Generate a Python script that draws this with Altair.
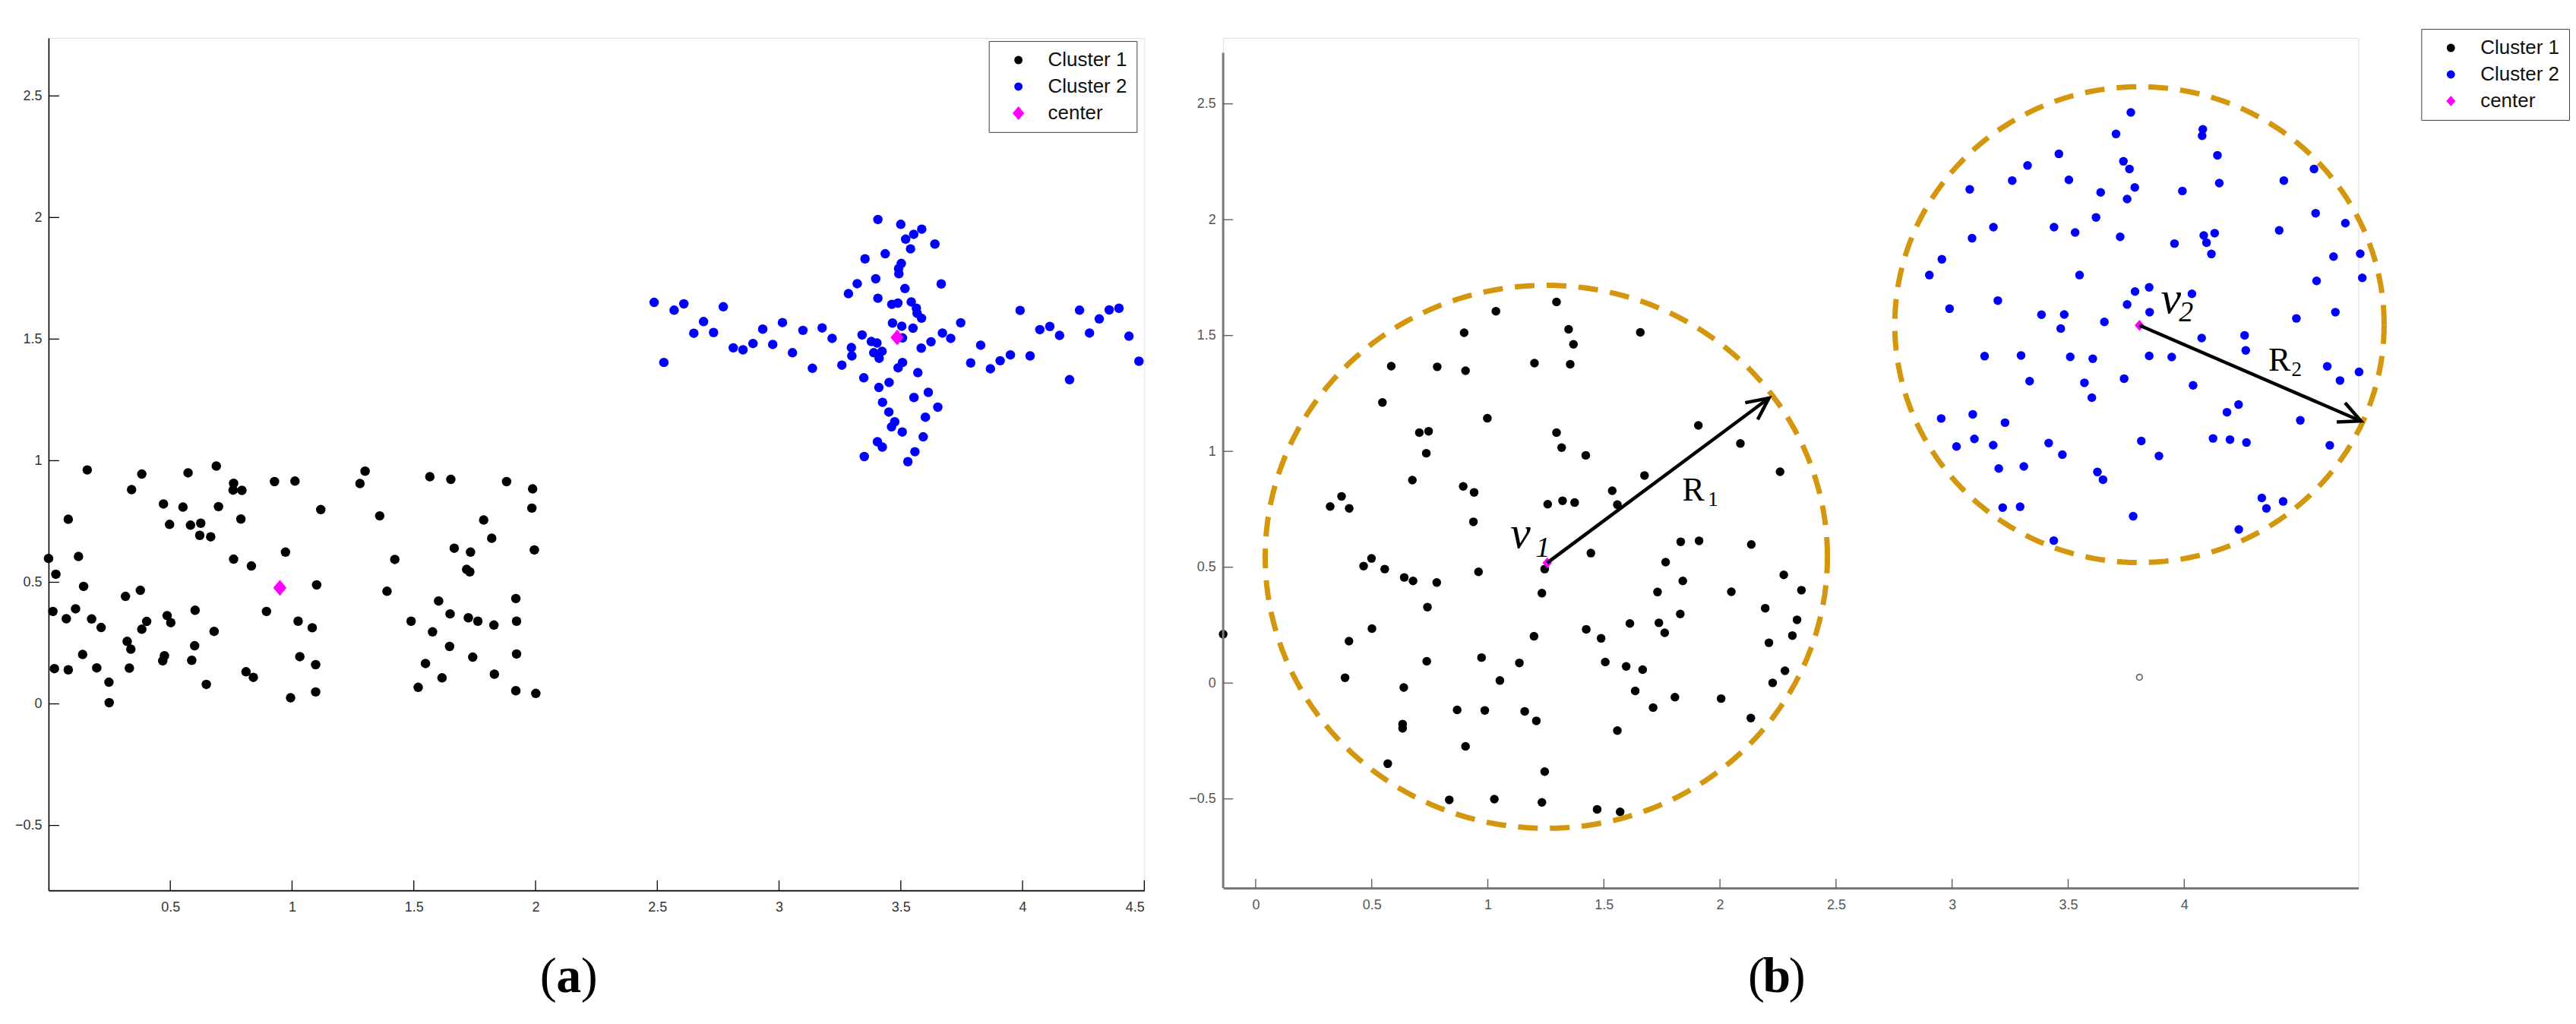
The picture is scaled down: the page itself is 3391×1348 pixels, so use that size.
import altair as alt
import pandas as pd

# ---------------- Panel (a) data ----------------
a_c1_x = [0.000,0.030,0.018,0.024,0.081,0.073,0.081,0.123,0.159,0.144,
          0.111,0.140,0.177,0.198,0.216,0.248,0.249,0.341,0.383,0.316,
          0.377,0.323,0.338,0.332,0.383,0.403,0.472,0.497,0.552,0.573,
          0.583,0.625,0.621,0.666,0.689,0.698,0.760,0.758,0.794,0.790,
          0.760,0.833,0.487,0.502,0.602,0.600,0.476,0.469,0.588,0.680,
          0.648,0.811,0.841,0.895,0.928,1.012,0.973,1.101,1.118,1.025,
          1.083,1.032,1.097,1.097,0.994,1.279,1.300,1.360,1.422,1.390,
          1.489,1.518,1.548,1.577,1.566,1.652,1.602,1.649,1.647,1.616,
          1.666,1.733,1.717,1.730,1.724,1.763,1.742,1.787,1.820,1.829,
          1.831,1.881,1.919,1.922,1.922,1.919,1.988,1.985,1.995,2.001]
a_c1_y = [0.598,0.533,0.380,0.145,0.759,0.350,0.140,0.606,0.962,0.483,
          0.391,0.203,0.349,0.148,0.314,0.089,0.005,0.881,0.945,0.442,
          0.467,0.257,0.225,0.147,0.307,0.339,0.822,0.738,0.809,0.950,
          0.735,0.743,0.693,0.687,0.978,0.811,0.907,0.879,0.878,0.760,
          0.595,0.567,0.363,0.334,0.385,0.239,0.198,0.177,0.179,0.298,
          0.080,0.132,0.109,0.380,0.914,0.916,0.624,0.489,0.799,0.340,
          0.313,0.194,0.161,0.049,0.025,0.906,0.957,0.773,0.594,0.463,
          0.340,0.068,0.166,0.296,0.934,0.923,0.423,0.370,0.236,0.107,
          0.640,0.624,0.553,0.543,0.354,0.340,0.192,0.756,0.681,0.324,
          0.122,0.914,0.433,0.340,0.205,0.054,0.884,0.805,0.633,0.043]
a_c2_x = [3.406,3.500,3.586,3.553,3.520,3.640,3.540,3.436,3.353,3.502,
          3.491,3.492,3.397,3.321,3.666,3.517,3.285,3.406,3.463,3.488,
          3.543,3.564,3.567,3.585,3.466,3.504,3.550,3.746,3.098,3.177,
          3.218,3.341,3.379,3.402,3.297,3.299,3.389,3.423,3.411,3.507,
          3.671,3.705,3.624,3.584,3.137,3.258,3.507,3.489,3.570,3.348,
          3.452,3.410,3.613,3.554,3.425,3.652,3.451,3.601,3.475,3.462,
          3.506,3.592,3.404,3.424,3.350,3.558,3.529,3.787,3.828,3.868,
          3.908,3.950,3.990,4.031,4.071,4.112,4.152,4.193,4.234,4.275,
          4.315,4.356,4.396,4.437,4.478,
          2.487,2.527,2.569,2.609,2.650,2.690,2.731,2.771,2.812,2.852,
          2.893,2.933,2.974,3.014,3.055]
a_c2_y = [1.992,1.972,1.952,1.931,1.911,1.891,1.871,1.851,1.830,1.811,
          1.790,1.769,1.748,1.728,1.727,1.708,1.687,1.668,1.643,1.648,
          1.653,1.627,1.606,1.586,1.566,1.553,1.545,1.567,1.536,1.546,
          1.503,1.517,1.490,1.484,1.465,1.431,1.444,1.450,1.421,1.505,
          1.525,1.503,1.489,1.463,1.380,1.393,1.404,1.382,1.362,1.341,
          1.322,1.301,1.281,1.260,1.240,1.220,1.200,1.179,1.160,1.139,
          1.118,1.098,1.078,1.056,1.017,1.037,0.996,1.402,1.475,1.378,
          1.411,1.435,1.618,1.431,1.539,1.552,1.515,1.333,1.619,1.525,
          1.583,1.620,1.627,1.512,1.409,
          1.651,1.404,1.619,1.645,1.524,1.572,1.527,1.633,1.464,1.456,
          1.482,1.541,1.478,1.568,1.444]
a_center_x = [0.950, 3.485]
a_center_y = [0.477, 1.507]
a_xticks = [0.5, 1, 1.5, 2, 2.5, 3, 3.5, 4, 4.5]
a_yticks = [-0.5, 0, 0.5, 1, 1.5, 2, 2.5]

# ---------------- Panel (b) data ----------------
b_c1_x = [1.296,1.035,0.898,1.348,1.369,1.657,0.584,0.782,0.904,1.201,
          1.355,0.546,0.998,0.705,0.745,0.735,1.296,1.318,1.422,1.907,
          2.088,2.259,0.675,0.894,0.941,0.370,0.321,0.403,1.258,1.322,
          1.374,1.536,1.558,1.675,0.938,1.831,1.910,2.135,1.444,
          0.499,0.465,0.556,0.640,0.678,0.780,0.960,1.245,
          1.766,1.233,1.840,1.731,2.275,2.351,2.049,0.740,1.829,2.195,
          2.332,1.612,1.737,1.762,0.501,0.402,1.199,
          1.424,1.488,2.211,2.312,0.737,0.973,1.136,1.506,1.596,1.667,
          0.385,1.052,0.638,1.635,2.280,2.227,1.806,2.005,1.712,0.868,
          0.987,1.159,1.209,2.133,0.633,0.633,
          1.558,0.904,0.569,1.245,0.834,1.028,1.233,1.471,1.570,
          -0.140]
b_c1_y = [1.645,1.605,1.512,1.527,1.462,1.514,1.368,1.365,1.348,1.381,
          1.376,1.211,1.143,1.081,1.087,0.992,1.081,1.016,0.983,1.112,
          1.034,0.912,0.876,0.849,0.823,0.806,0.762,0.754,0.772,0.787,
          0.779,0.830,0.770,0.896,0.696,0.610,0.614,0.598,0.561,
          0.538,0.505,0.492,0.456,0.441,0.434,0.480,0.492,
          0.522,0.388,0.441,0.393,0.467,0.401,0.394,0.328,0.298,0.323,
          0.273,0.257,0.260,0.217,0.235,0.181,0.202,
          0.232,0.193,0.174,0.205,0.094,0.110,0.087,0.091,0.072,0.058,
          0.023,0.011,-0.019,-0.034,0.053,0.001,-0.061,-0.067,-0.106,-0.116,
          -0.118,-0.122,-0.163,-0.151,-0.177,-0.195,
          -0.205,-0.273,-0.348,-0.382,-0.504,-0.501,-0.515,-0.545,-0.556,
          0.211]
b_c2_x = [3.770,3.706,4.080,4.077,3.460,4.143,3.325,3.738,3.764,4.559,
          3.259,3.503,4.151,4.429,3.076,3.787,3.640,3.992,3.754,3.620,
          4.566,4.694,3.178,3.439,3.530,4.409,3.086,3.724,3.958,4.084,
          4.131,4.096,4.117,2.956,4.643,4.758,2.902,3.549,4.570,4.767,
          3.788,3.849,4.033,3.754,3.851,2.989,3.197,3.385,3.483,3.468,
          3.656,4.651,4.483,4.075,4.260,4.265,3.140,3.297,3.509,3.606,
          3.849,3.946,4.616,4.753,4.671,3.334,3.570,3.741,4.038,3.602,
          4.234,4.184,2.953,3.089,3.228,4.500,3.019,3.096,3.177,3.416,
          3.475,3.815,3.891,4.124,4.197,4.268,4.627,3.201,3.309,3.626,
          3.650,4.334,4.354,4.426,3.218,3.293,3.780,4.235,3.438]
b_c2_y = [2.463,2.370,2.390,2.362,2.284,2.278,2.234,2.252,2.219,2.219,
          2.169,2.172,2.158,2.169,2.131,2.139,2.118,2.124,2.089,2.010,
          2.028,1.985,1.968,1.968,1.945,1.954,1.920,1.926,1.897,1.932,
          1.942,1.901,1.852,1.829,1.841,1.853,1.761,1.761,1.736,1.749,
          1.690,1.708,1.680,1.634,1.601,1.616,1.651,1.590,1.591,1.530,
          1.559,1.601,1.574,1.489,1.501,1.436,1.411,1.414,1.408,1.400,
          1.412,1.407,1.367,1.343,1.306,1.303,1.296,1.314,1.285,1.232,
          1.202,1.169,1.142,1.160,1.124,1.134,1.021,1.054,1.027,1.036,
          0.986,1.045,0.980,1.056,1.051,1.038,1.026,0.926,0.935,0.911,
          0.878,0.799,0.754,0.784,0.757,0.761,0.720,0.663,0.615]
b_center_x = [1.256, 3.807]
b_center_y = [0.519, 1.544]
b_open_x = [3.807]
b_open_y = [0.025]
b_circle_cx = [1.252, 3.807]
b_circle_cy = [0.545, 1.547]
b_circle_rx = [1.211, 1.054]
b_circle_ry = [1.172, 1.027]
b_arrow_x1 = [1.256, 3.807]
b_arrow_y1 = [0.519, 1.544]
b_arrow_x2 = [2.211, 4.761]
b_arrow_y2 = [1.230, 1.131]
b_xticks = [0, 0.5, 1, 1.5, 2, 2.5, 3, 3.5, 4]
b_yticks = [-0.5, 0, 0.5, 1, 1.5, 2, 2.5]
b_yaxis_span = [-0.885, 2.72]
# annotation text: main letter and subscript
b_lab_main = ["v", "R", "v", "R"]
b_lab_main_x = [1.097, 1.838, 3.899, 4.362]
b_lab_main_y = [0.585, 0.787, 1.599, 1.347]
b_lab_sub = ["1", "1", "2", "2"]
b_lab_sub_x = [1.206, 1.948, 3.977, 4.462]
b_lab_sub_y = [0.546, 0.765, 1.562, 1.324]
panel_names = ["a", "b"]

series_names = ["Cluster 1", "Cluster 2", "center"]

# ---------------- styling ----------------
SANS = "Liberation Sans"
NARROW = "Liberation Sans Narrow, Arial Narrow, Liberation Sans, sans-serif"
SERIF = "Liberation Serif"
GOLD = "#D4960C"
DIAMOND_A = "M-1.4,0L0,-1.65L1.4,0L0,1.65Z"
DIAMOND_B = "M-1.1,0L0,-1.25L1.1,0L0,1.25Z"
CHEVRON = "M-0.48,1L0,0L0.48,1"

WA, HA = 1445, 1124
WB, HB = 1497, 1121


def make_points(c1x, c1y, c2x, c2y, cx, cy):
    rows = []
    for x, y in zip(c1x, c1y):
        rows.append({"x": x, "y": y, "series": "Cluster 1"})
    for x, y in zip(c2x, c2y):
        rows.append({"x": x, "y": y, "series": "Cluster 2"})
    for x, y in zip(cx, cy):
        rows.append({"x": x, "y": y, "series": "center"})
    return pd.DataFrame(rows)


def legend(lx, ly):
    return alt.Legend(orient="none", legendX=lx, legendY=ly, title=None,
                      strokeColor="#3c3c3c", fillColor="white",
                      padding=12, symbolOffset=14, labelOffset=26,
                      labelFont=SANS, labelFontSize=26, labelColor="#111",
                      rowPadding=9, symbolStrokeWidth=0, symbolSize=120)


def point_layer(df, sx, sy, xaxis, yaxis, size, diamond, lg):
    return alt.Chart(df).mark_point(filled=True, opacity=1, size=size).encode(
        x=alt.X("x:Q", scale=sx, axis=xaxis, title=None),
        y=alt.Y("y:Q", scale=sy, axis=yaxis, title=None),
        color=alt.Color("series:N", scale=alt.Scale(domain=series_names,
                        range=["#000000", "#0000FF", "#FF00FF"]), legend=lg),
        shape=alt.Shape("series:N", scale=alt.Scale(domain=series_names,
                        range=["circle", "circle", diamond]), legend=lg),
    )


def tick_layers(xt, yt, sx, sy, H, color, xlen, ylen, width):
    xr = alt.Chart(pd.DataFrame({"v": xt})).mark_rule(color=color, strokeWidth=width).encode(
        x=alt.X("v:Q", scale=sx, title=None), y=alt.value(H - xlen), y2=alt.value(H))
    yr = alt.Chart(pd.DataFrame({"v": yt})).mark_rule(color=color, strokeWidth=width).encode(
        y=alt.Y("v:Q", scale=sy, title=None), x=alt.value(0), x2=alt.value(ylen))
    return [xr, yr]


def panel_label(name, px, py):
    d = pd.DataFrame({"t": [name]})
    base = alt.Chart(d)
    lp = base.mark_text(text="(", font=SERIF, fontSize=66, align="right", baseline="middle").encode(
        x=alt.value(px - 16), y=alt.value(py))
    mid = base.mark_text(font=SERIF, fontSize=66, fontWeight="bold", align="center", baseline="middle").encode(
        x=alt.value(px), y=alt.value(py), text="t:N")
    rp = base.mark_text(text=")", font=SERIF, fontSize=66, align="left", baseline="middle").encode(
        x=alt.value(px + 16), y=alt.value(py))
    return [lp, mid, rp]


# ---------------- Panel (a) ----------------
sxa = alt.Scale(domain=[0, 4.5], nice=False, zero=False)
sya = alt.Scale(domain=[-0.767, 2.738], nice=False, zero=False)
xaxis_a = alt.Axis(values=a_xticks, format="~g", ticks=False, grid=False,
                   domainColor="#000", domainWidth=1.6, labelFont=NARROW,
                   labelFontSize=18, labelColor="#333", labelPadding=13)
yaxis_a = alt.Axis(values=a_yticks, format="~g", ticks=False, grid=False,
                   domainColor="#000", domainWidth=1.6, labelFont=NARROW,
                   labelFontSize=18, labelColor="#333", labelPadding=9)
dfa = make_points(a_c1_x, a_c1_y, a_c2_x, a_c2_y, a_center_x, a_center_y)
pa = point_layer(dfa, sxa, sya, xaxis_a, yaxis_a, 156, DIAMOND_A, legend(1240, 4))
panel_a = alt.layer(
    pa,
    *tick_layers(a_xticks, a_yticks, sxa, sya, HA, "#000", 13, 14, 1.3),
    *panel_label(panel_names[0], 686, 1238),
).properties(width=WA, height=HA)

# ---------------- Panel (b) ----------------
sxb = alt.Scale(domain=[-0.14, 4.75], nice=False, zero=False)
syb = alt.Scale(domain=[-0.885, 2.784], nice=False, zero=False)
xaxis_b = alt.Axis(values=b_xticks, format="~g", ticks=False, grid=False,
                   domainColor="#7a7a7a", domainWidth=3, labelFont=NARROW,
                   labelFontSize=18, labelColor="#555", labelPadding=13)
yaxis_b = alt.Axis(values=b_yticks, format="~g", ticks=False, grid=False,
                   domain=False, labelFont=NARROW,
                   labelFontSize=18, labelColor="#555", labelPadding=10)
dfb = make_points(b_c1_x, b_c1_y, b_c2_x, b_c2_y, b_center_x, b_center_y)
pb = point_layer(dfb, sxb, syb, xaxis_b, yaxis_b, 132, DIAMOND_B, legend(1580, -12))

yline_b = alt.Chart(pd.DataFrame({"lo": [b_yaxis_span[0]], "hi": [b_yaxis_span[1]]})).mark_rule(
    color="#7a7a7a", strokeWidth=3).encode(
    x=alt.value(0), y=alt.Y("hi:Q", scale=syb, title=None), y2="lo:Q")

open_b = alt.Chart(pd.DataFrame({"x": b_open_x, "y": b_open_y})).mark_point(
    shape="circle", filled=False, size=60, color="#555", strokeWidth=1.5, opacity=1).encode(
    x=alt.X("x:Q", scale=sxb, title=None), y=alt.Y("y:Q", scale=syb, title=None))

circles = []
for cx, cy, rx, ry in zip(b_circle_cx, b_circle_cy, b_circle_rx, b_circle_ry):
    circles.append(
        alt.Chart(alt.sequence(0, 362, 2, as_="t")).transform_calculate(
            cxv=f"{cx} + {rx}*cos(datum.t*PI/180)",
            cyv=f"{cy} + {ry}*sin(datum.t*PI/180)",
        ).mark_line(color=GOLD, strokeWidth=7, strokeDash=[26, 16], clip=False).encode(
            x=alt.X("cxv:Q", scale=sxb, title=None),
            y=alt.Y("cyv:Q", scale=syb, title=None),
            order="t:Q",
        )
    )

arrows_df = pd.DataFrame({"x": b_arrow_x1, "y": b_arrow_y1, "xe": b_arrow_x2, "ye": b_arrow_y2})
arrow_lines = alt.Chart(arrows_df).mark_rule(color="black", strokeWidth=4.5).encode(
    x=alt.X("x:Q", scale=sxb, title=None), y=alt.Y("y:Q", scale=syb, title=None),
    x2="xe:Q", y2="ye:Q")
arrow_heads = alt.Chart(arrows_df).transform_calculate(
    ang="90 - atan2(datum.ye - datum.y, datum.xe - datum.x) * 180 / PI"
).mark_point(shape=CHEVRON, filled=False, size=3300, color="black", strokeWidth=4.5,
             opacity=1, strokeJoin="miter").encode(
    x=alt.X("xe:Q", scale=sxb, title=None), y=alt.Y("ye:Q", scale=syb, title=None),
    angle=alt.Angle("ang:Q", scale=None))

lab_main = pd.DataFrame({"x": b_lab_main_x, "y": b_lab_main_y, "t": b_lab_main})
lab_sub = pd.DataFrame({"x": b_lab_sub_x, "y": b_lab_sub_y, "t": b_lab_sub})
v_main = alt.Chart(lab_main).transform_filter("datum.t == 'v'").mark_text(
    font=SERIF, fontStyle="italic", fontSize=60, align="left", baseline="alphabetic", color="black").encode(
    x=alt.X("x:Q", scale=sxb, title=None), y=alt.Y("y:Q", scale=syb, title=None), text="t:N")
r_main = alt.Chart(lab_main).transform_filter("datum.t == 'R'").mark_text(
    font=SERIF, fontSize=44, align="left", baseline="alphabetic", color="black").encode(
    x=alt.X("x:Q", scale=sxb, title=None), y=alt.Y("y:Q", scale=syb, title=None), text="t:N")
lab_sub["kind"] = ["v", "R", "v", "R"]
v_sub = alt.Chart(lab_sub).transform_filter("datum.kind == 'v'").mark_text(
    font=SERIF, fontStyle="italic", fontSize=38, align="left", baseline="alphabetic", color="black").encode(
    x=alt.X("x:Q", scale=sxb, title=None), y=alt.Y("y:Q", scale=syb, title=None), text="t:N")
r_sub = alt.Chart(lab_sub).transform_filter("datum.kind == 'R'").mark_text(
    font=SERIF, fontSize=27, align="left", baseline="alphabetic", color="black").encode(
    x=alt.X("x:Q", scale=sxb, title=None), y=alt.Y("y:Q", scale=syb, title=None), text="t:N")

panel_b = alt.layer(
    pb, open_b, *circles, arrow_lines, arrow_heads, v_main, v_sub, r_main, r_sub, yline_b,
    *tick_layers(b_xticks, b_yticks, sxb, syb, HB, "#555", 12, 13, 1.3),
    *panel_label(panel_names[1], 730, 1238),
).properties(width=WB, height=HB)

chart = alt.hconcat(panel_a, panel_b, spacing=104, bounds="flush").resolve_scale(
    color="independent", shape="independent"
).resolve_legend(color="independent", shape="independent").properties(
    padding={"left": 10, "top": 28, "right": 0, "bottom": 0}
).configure_view(stroke=None).configure(background="white")

chart.save("out.html", embed_options={"renderer": "svg", "actions": False})
